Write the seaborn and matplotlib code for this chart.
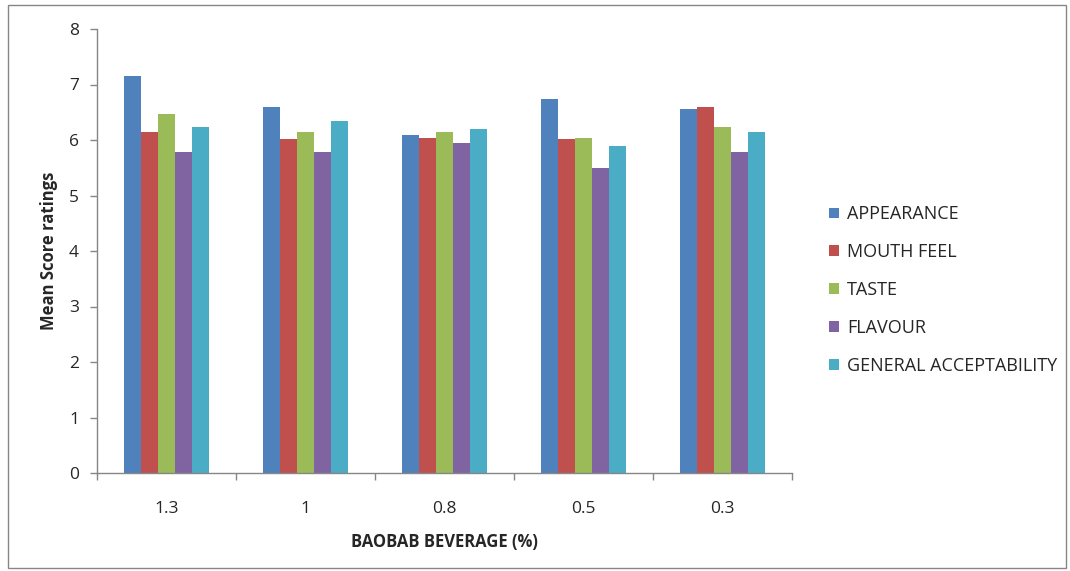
import pandas as pd
import numpy as np
import matplotlib
matplotlib.use('Agg')
import matplotlib.pyplot as plt
import seaborn as sns
from matplotlib.patches import Rectangle

# data
levels = ['1.3', '1', '0.8', '0.5', '0.3']
attributes = ['APPEARANCE', 'MOUTH FEEL', 'TASTE', 'FLAVOUR', 'GENERAL ACCEPTABILITY']
appearance = [7.16, 6.60, 6.09, 6.74, 6.55]
mouth_feel = [6.15, 6.01, 6.04, 6.01, 6.60]
taste = [6.46, 6.15, 6.15, 6.04, 6.24]
flavour = [5.79, 5.79, 5.95, 5.50, 5.79]
general_acc = [6.24, 6.34, 6.20, 5.89, 6.15]
colors = ['#4F81BD', '#C0504D', '#9BBB59', '#8064A2', '#4BACC6']

series = [appearance, mouth_feel, taste, flavour, general_acc]
rows = []
for attr, vals in zip(attributes, series):
    for lev, v in zip(levels, vals):
        rows.append({'level': lev, 'attribute': attr, 'score': v})
df = pd.DataFrame(rows)

sns.set_style('white')
plt.rcParams['font.family'] = ['Open Sans', 'DejaVu Sans']

fig = plt.figure(figsize=(10.7, 5.71), dpi=100)
ax = fig.add_axes([97/1070, 1-473/571, 695/1070, 444/571])

sns.barplot(data=df, x='level', y='score', hue='attribute', order=levels,
            hue_order=attributes, palette=colors, width=0.61, saturation=1,
            edgecolor='none', linewidth=0, ax=ax)

ax.set_ylim(0, 8)
ax.set_xlim(-0.5, 4.5)
ax.set_yticks(range(0, 9))
ax.tick_params(axis='y', direction='out', length=5, width=1, color='#868686',
               labelsize=12.5, pad=8, left=True)
ax.set_xticks(range(5))
ax.set_xticks(np.arange(-0.5, 5, 1), minor=True)
ax.tick_params(axis='x', which='major', length=0, labelsize=12.5, pad=20)
ax.tick_params(axis='x', which='minor', direction='out', length=5, width=1,
               color='#868686', bottom=True)
for s in ['top', 'right']:
    ax.spines[s].set_visible(False)
for s in ['left', 'bottom']:
    ax.spines[s].set_color('#868686')
    ax.spines[s].set_linewidth(1)

ax.set_ylabel('Mean Score ratings', fontsize=12, fontweight='bold', labelpad=8)
ax.set_xlabel('BAOBAB BEVERAGE (%)', fontsize=12, fontweight='bold', labelpad=12)

ax.legend(loc='center left', bbox_to_anchor=(1.03, 0.412), frameon=False,
          fontsize=13, handlelength=0.55, handleheight=0.55, handletextpad=0.45,
          labelspacing=1.1)

fig.patches.append(Rectangle((8/1070, 3/571), 1058/1070, 563/571,
                             transform=fig.transFigure, fill=False,
                             edgecolor='#868686', linewidth=1))

fig.savefig('out.png', dpi=100)
